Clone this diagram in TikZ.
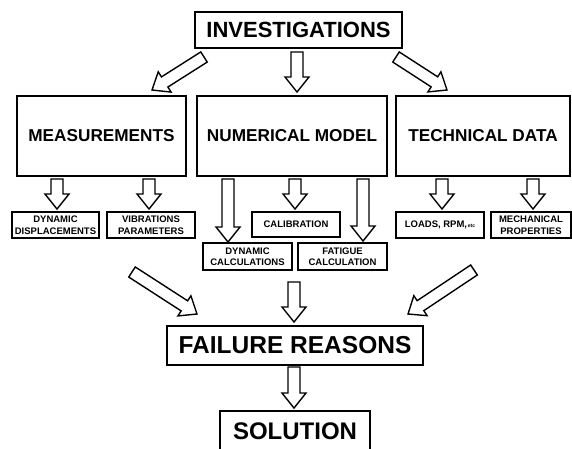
\documentclass[tikz,border=0pt]{standalone}
\usepackage{fontspec}
\setmainfont{Liberation Sans}
\usetikzlibrary{calc}

% hollow block arrow from #1 (tail) to #2 (tip)
\newcommand{\fatarrow}[2]{%
    \draw[fatline] ($(#1)!6pt!90:(#2)$)
        -- ($(#2)!15pt!(#1)!6pt!90:(#2)$)
        -- ($(#2)!15pt!(#1)!12pt!90:(#2)$)
        -- (#2)
        -- ($(#2)!15pt!(#1)!12pt!-90:(#2)$)
        -- ($(#2)!15pt!(#1)!6pt!-90:(#2)$)
        -- ($(#1)!6pt!-90:(#2)$) -- cycle;
}

\tikzset{
    box/.style={draw, line width=1.6pt, inner sep=0pt, font=\bfseries},
    bigbox/.style={box, minimum height=80pt, font=\bfseries\fontsize{17.2}{20}\selectfont},
    smallbox/.style={box, minimum height=26pt, align=center,
        font=\bfseries\fontsize{9.5}{11.5}\selectfont},
    fatline/.style={draw, line width=1.4pt, fill=white, line join=miter},
}

\begin{document}
\begin{tikzpicture}[x=1pt,y=-1pt]
    \useasboundingbox (0,0) rectangle (572,448);
    %\draw[help lines] (0,0) grid[step=20] (572,448);

    \node[box, minimum width=207pt, minimum height=36pt,
        font=\bfseries\fontsize{22}{24}\selectfont] (inv) at (298.5,30) {INVESTIGATIONS};

    \node[bigbox, minimum width=169pt] (meas) at (101.5,136) {MEASUREMENTS};
    \node[bigbox, minimum width=190pt] (num) at (292,136) {NUMERICAL MODEL};
    \node[bigbox, minimum width=174pt] (tech) at (483,136) {TECHNICAL DATA};

    \node[smallbox, minimum width=87pt] (dyndisp) at (55.5,225) {DYNAMIC\\DISPLACEMENTS};
    \node[smallbox, minimum width=88pt] (vib) at (151,225) {VIBRATIONS\\PARAMETERS};
    \node[smallbox, minimum width=88pt, minimum height=25pt] (calib) at (296,224.5) {CALIBRATION};
    \node[smallbox, minimum width=89pt, minimum height=27pt] (dyncalc) at (247.5,256.5) {DYNAMIC\\CALCULATIONS};
    \node[smallbox, minimum width=89pt, minimum height=27pt] (fatig) at (342.5,256.5) {FATIGUE\\CALCULATION};
    \node[smallbox, minimum width=88pt] (loads) at (440,225)
        {LOADS, RPM,{\fontsize{5}{6}\selectfont\,etc}};
    \node[smallbox, minimum width=80pt] (mech) at (531,225) {MECHANICAL\\PROPERTIES};

    \node[box, minimum width=256pt, minimum height=39pt,
        font=\bfseries\fontsize{24.5}{26}\selectfont] (fail) at (295,345.5) {FAILURE REASONS};
    \node[box, minimum width=150pt, minimum height=40pt,
        font=\bfseries\fontsize{24}{26}\selectfont] (sol) at (295,431) {SOLUTION};

    % arrow ends
    \coordinate (i1) at (204,57);  \coordinate (i1t) at (152,90);
    \coordinate (i2) at (297,52);  \coordinate (i2t) at (297,92);
    \coordinate (i3) at (396,57);  \coordinate (i3t) at (447,90);
    \coordinate (m1) at (57,179);  \coordinate (m1t) at (57,209);
    \coordinate (m2) at (149,179); \coordinate (m2t) at (149,209);
    \coordinate (n1) at (228,179); \coordinate (n1t) at (228,242);
    \coordinate (n2) at (295,179); \coordinate (n2t) at (295,209);
    \coordinate (n3) at (363,179); \coordinate (n3t) at (363,241);
    \coordinate (t1) at (442,179); \coordinate (t1t) at (442,209);
    \coordinate (t2) at (533,179); \coordinate (t2t) at (533,209);
    \coordinate (f1) at (132,272); \coordinate (f1t) at (197,314);
    \coordinate (f2) at (294,282); \coordinate (f2t) at (294,322);
    \coordinate (f3) at (474,270); \coordinate (f3t) at (408,314);
    \coordinate (s1) at (294,367); \coordinate (s1t) at (294,408);

    \fatarrow{i1}{i1t}
    \fatarrow{i2}{i2t}
    \fatarrow{i3}{i3t}
    \fatarrow{m1}{m1t}
    \fatarrow{m2}{m2t}
    \fatarrow{n1}{n1t}
    \fatarrow{n2}{n2t}
    \fatarrow{n3}{n3t}
    \fatarrow{t1}{t1t}
    \fatarrow{t2}{t2t}
    \fatarrow{f1}{f1t}
    \fatarrow{f2}{f2t}
    \fatarrow{f3}{f3t}
    \fatarrow{s1}{s1t}
\end{tikzpicture}
\end{document}
